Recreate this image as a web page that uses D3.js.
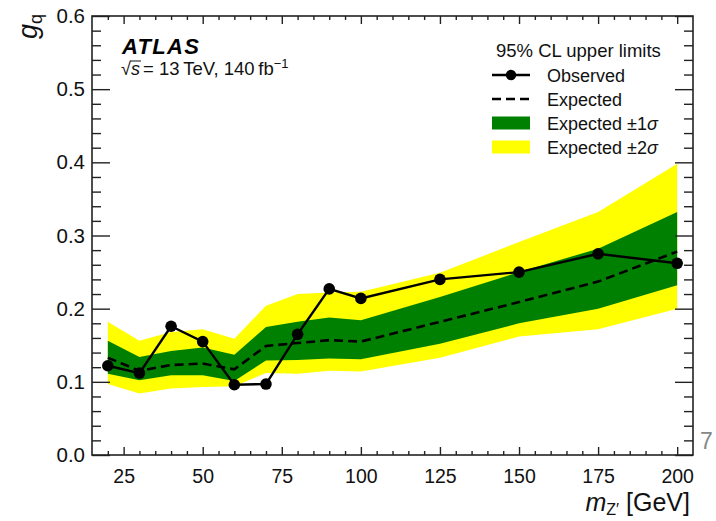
<!DOCTYPE html>
<html>
<head>
<meta charset="utf-8">
<script src="https://cdn.jsdelivr.net/npm/d3@7"></script>
<style>
  html, body { margin: 0; padding: 0; background: #fff; }
  svg { display: block; font-family: "Liberation Sans", Arial, Helvetica, sans-serif; }
</style>
</head>
<body>
<svg id="chart" width="716" height="521"></svg>
<script>
// Z' mass points (GeV) and 95% CL upper limits on g_q
const massPoints = [20, 30, 40, 50, 60, 70, 80, 90, 100, 125, 150, 175, 200];
const observed   = [0.122, 0.112, 0.176, 0.155, 0.096, 0.097, 0.165, 0.227, 0.214, 0.240, 0.250, 0.275, 0.262];
const expected   = [0.133, 0.115, 0.123, 0.125, 0.117, 0.149, 0.153, 0.157, 0.155, 0.182, 0.209, 0.237, 0.278];
const exp1SigHi  = [0.156, 0.134, 0.142, 0.147, 0.137, 0.175, 0.182, 0.188, 0.184, 0.216, 0.250, 0.282, 0.332];
const exp1SigLo  = [0.111, 0.102, 0.109, 0.109, 0.101, 0.129, 0.130, 0.132, 0.131, 0.152, 0.180, 0.200, 0.232];
const exp2SigHi  = [0.182, 0.156, 0.168, 0.172, 0.159, 0.204, 0.220, 0.222, 0.223, 0.249, 0.291, 0.332, 0.398];
const exp2SigLo  = [0.097, 0.084, 0.091, 0.093, 0.094, 0.112, 0.111, 0.115, 0.114, 0.133, 0.162, 0.172, 0.200];

const xTickLabels = [25, 50, 75, 100, 125, 150, 175, 200];
const yTickLabels = [0.0, 0.1, 0.2, 0.3, 0.4, 0.5, 0.6];

const legendEntries = [
  { text: "Observed", sigma: "" },
  { text: "Expected", sigma: "" },
  { text: "Expected \u00b11", sigma: "\u03c3" },
  { text: "Expected \u00b12", sigma: "\u03c3" }
];

const svg = d3.select("#chart");
const frame = { left: 92, right: 693, top: 16, bottom: 455 };

const x = d3.scaleLinear().domain([15, 205]).range([frame.left, frame.right]);
const y = d3.scaleLinear().domain([0, 0.6]).range([frame.bottom, frame.top]);

const GREEN = "#008000";
const YELLOW = "#ffff00";
const INK = "#000";

svg.append("rect").attr("width", 716).attr("height", 521).attr("fill", "#fff");

// ---- bands ----
const rows = massPoints.map((m, i) => ({
  m, obs: observed[i], exp: expected[i],
  lo1: exp1SigLo[i], hi1: exp1SigHi[i], lo2: exp2SigLo[i], hi2: exp2SigHi[i]
}));

const band = (lo, hi) => d3.area().x(d => x(d.m)).y0(d => y(d[lo])).y1(d => y(d[hi]));

svg.append("path").datum(rows).attr("d", band("lo2", "hi2")).attr("fill", YELLOW);
svg.append("path").datum(rows).attr("d", band("lo1", "hi1")).attr("fill", GREEN);

// ---- expected (dashed) ----
svg.append("path").datum(rows)
  .attr("d", d3.line().x(d => x(d.m)).y(d => y(d.exp)))
  .attr("fill", "none").attr("stroke", INK).attr("stroke-width", 2.6)
  .attr("stroke-dasharray", "9,5");

// ---- observed ----
svg.append("path").datum(rows)
  .attr("d", d3.line().x(d => x(d.m)).y(d => y(d.obs)))
  .attr("fill", "none").attr("stroke", INK).attr("stroke-width", 2.4);

svg.append("g").selectAll("circle").data(rows).join("circle")
  .attr("cx", d => x(d.m)).attr("cy", d => y(d.obs)).attr("r", 5.8).attr("fill", INK);

// ---- axes: ticks on all four sides, pointing inwards ----
const xMinor = d3.range(20, 205, 5).filter(v => v % 25 !== 0);
const yMinor = d3.range(0, 31, 1).map(v => v / 50).filter((v, i) => i % 5 !== 0);

function styleAxis(g) {
  g.select(".domain").remove();
  g.selectAll(".tick line").attr("stroke", "#222").attr("stroke-width", 1.4);
}

const tickFont = size => g => g.selectAll("text")
  .attr("font-size", size).attr("fill", "#111")
  .attr("font-family", "'Liberation Sans', Arial, sans-serif");

// bottom
svg.append("g").attr("transform", `translate(0,${frame.bottom})`)
  .call(d3.axisBottom(x).tickValues(xMinor).tickSize(-4).tickFormat(""))
  .call(styleAxis).selectAll("text").remove();
svg.append("g").attr("transform", `translate(0,${frame.bottom})`)
  .call(d3.axisBottom(x).tickValues(xTickLabels).tickSize(-8).tickPadding(14).tickFormat(d3.format("d")))
  .call(styleAxis).call(tickFont(19.5));
// top
svg.append("g").attr("transform", `translate(0,${frame.top})`)
  .call(d3.axisTop(x).tickValues(xMinor).tickSize(-4).tickFormat(""))
  .call(styleAxis);
svg.append("g").attr("transform", `translate(0,${frame.top})`)
  .call(d3.axisTop(x).tickValues(xTickLabels).tickSize(-8).tickFormat(""))
  .call(styleAxis);
// left
svg.append("g").attr("transform", `translate(${frame.left},0)`)
  .call(d3.axisLeft(y).tickValues(yMinor).tickSize(-9).tickFormat(""))
  .call(styleAxis);
svg.append("g").attr("transform", `translate(${frame.left},0)`)
  .call(d3.axisLeft(y).tickValues(yTickLabels).tickSize(-18).tickFormat(d3.format(".1f")))
  .call(styleAxis).call(tickFont(20.5))
  .selectAll("text").attr("x", -7);
// right
svg.append("g").attr("transform", `translate(${frame.right},0)`)
  .call(d3.axisRight(y).tickValues(yMinor).tickSize(-9).tickFormat(""))
  .call(styleAxis);
svg.append("g").attr("transform", `translate(${frame.right},0)`)
  .call(d3.axisRight(y).tickValues(yTickLabels).tickSize(-18).tickFormat(""))
  .call(styleAxis);

// frame
svg.append("rect")
  .attr("x", frame.left).attr("y", frame.top)
  .attr("width", frame.right - frame.left).attr("height", frame.bottom - frame.top)
  .attr("fill", "none").attr("stroke", "#222").attr("stroke-width", 1.6);

// ---- axis titles ----
const xTitle = svg.append("text").attr("x", 690).attr("y", 511)
  .attr("text-anchor", "end").attr("font-size", 25).attr("fill", "#111");
xTitle.append("tspan").attr("font-style", "italic").text("m");
xTitle.append("tspan").attr("font-size", 16).attr("dy", 4).text("Z\u2032");
xTitle.append("tspan").attr("dy", -4).text(" [GeV]");

const yTitle = svg.append("text")
  .attr("transform", "translate(37,14) rotate(-90)")
  .attr("text-anchor", "end").attr("font-size", 27).attr("fill", "#111");
yTitle.append("tspan").attr("font-style", "italic").text("g");
yTitle.append("tspan").attr("font-size", 18).attr("dy", 5).text("q");

// stray mark beside the axis
svg.append("text").attr("x", 700).attr("y", 449).attr("font-size", 23).attr("fill", "#888").text("7");

// ---- ATLAS label ----
svg.append("text").attr("x", 122).attr("y", 54)
  .attr("font-size", 22).attr("font-weight", "bold").attr("font-style", "italic")
  .attr("letter-spacing", 1.3)
  .attr("fill", "#000").text("ATLAS");

svg.append("text").attr("x", 121).attr("y", 75).attr("font-size", 18).attr("fill", "#111").text("\u221a");
svg.append("text").attr("x", 131).attr("y", 75).attr("font-size", 18).attr("font-style", "italic").attr("fill", "#111").text("s");
svg.append("line").attr("x1", 130).attr("x2", 141).attr("y1", 61).attr("y2", 61)
  .attr("stroke", "#111").attr("stroke-width", 1);
const energy = svg.append("text").attr("x", 143).attr("y", 75).attr("font-size", 18.5).attr("fill", "#111");
energy.append("tspan").text("= 13\u2009TeV, 140\u2009fb");
energy.append("tspan").attr("font-size", 13).attr("dy", -7).text("\u22121");

// ---- legend ----
svg.append("text").attr("x", 496).attr("y", 57).attr("font-size", 18.5).attr("fill", "#111")
  .text("95% CL upper limits");

const legY = [75, 99, 123, 147];
const lg = svg.append("g");
legendEntries.forEach((e, i) => {
  const t = lg.append("text").attr("x", 547).attr("y", legY[i] + 7).attr("font-size", 18).attr("fill", "#111");
  t.append("tspan").text(e.text);
  if (e.sigma) t.append("tspan").attr("font-style", "italic").text(e.sigma);
});
lg.append("line").attr("x1", 492).attr("x2", 530).attr("y1", legY[0]).attr("y2", legY[0])
  .attr("stroke", INK).attr("stroke-width", 2.4);
lg.append("circle").attr("cx", 511).attr("cy", legY[0]).attr("r", 5.2).attr("fill", INK);
lg.append("line").attr("x1", 492).attr("x2", 530).attr("y1", legY[1]).attr("y2", legY[1])
  .attr("stroke", INK).attr("stroke-width", 2.6).attr("stroke-dasharray", "9,5");
lg.append("rect").attr("x", 492).attr("y", legY[2] - 6.5).attr("width", 38).attr("height", 13).attr("fill", GREEN);
lg.append("rect").attr("x", 492).attr("y", legY[3] - 6.5).attr("width", 38).attr("height", 13).attr("fill", YELLOW);
</script>
</body>
</html>
